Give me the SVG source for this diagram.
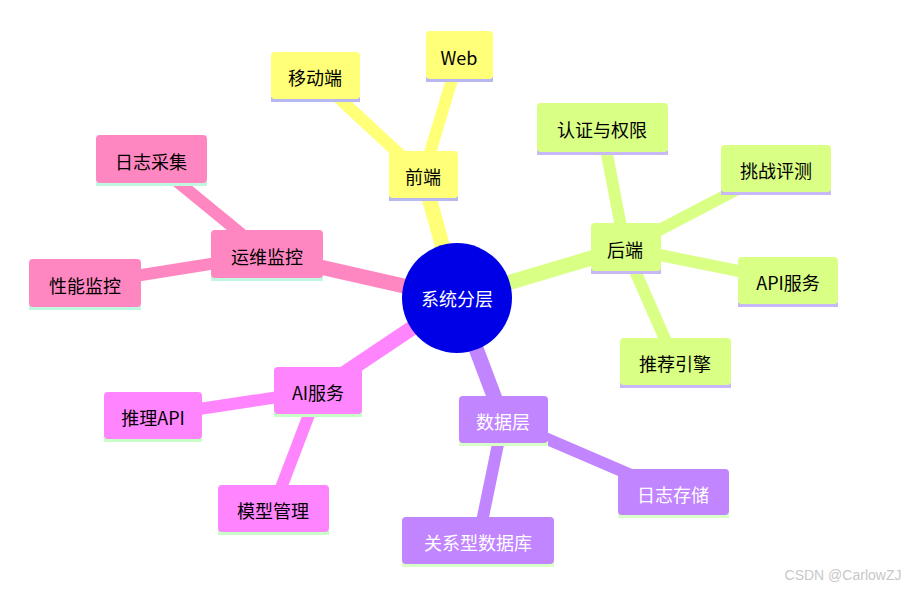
<svg xmlns="http://www.w3.org/2000/svg" width="914" height="589" viewBox="0 0 914 589">
<style>
text{font-family:"Noto Sans CJK SC","Noto Sans",sans-serif;font-size:18px;text-anchor:middle;dominant-baseline:central}
.e{stroke-linecap:round;fill:none}
.y{fill:#ffff78}.g{fill:#d9ff85}.p{fill:#c185ff}.m{fill:#ff85ff}.k{fill:#ff87c1}
.yu{fill:#b8b8f0}.gu{fill:#c9b8f7}.pu{fill:#d8ffc8}.mu{fill:#c8ffc8}.ku{fill:#bff7e0}
</style>
<rect width="914" height="589" fill="#fff"/>
<g id="connectors" class="e">
<g stroke="#ffff78"><line x1="457" y1="298" x2="423" y2="176" stroke-width="15"/><line x1="423" y1="176" x2="459" y2="56" stroke-width="12"/><line x1="423" y1="176" x2="315" y2="76" stroke-width="12"/></g>
<g stroke="#d9ff85"><line x1="457" y1="298" x2="625" y2="248" stroke-width="15"/><line x1="625" y1="248" x2="602" y2="128" stroke-width="12"/><line x1="625" y1="248" x2="776" y2="169" stroke-width="12"/><line x1="625" y1="248" x2="788" y2="281" stroke-width="12"/><line x1="625" y1="248" x2="675" y2="362" stroke-width="12"/></g>
<g stroke="#c185ff"><line x1="457" y1="298" x2="503" y2="420" stroke-width="15"/><line x1="503" y1="420" x2="673" y2="493" stroke-width="12"/><line x1="503" y1="420" x2="478" y2="541" stroke-width="12"/></g>
<g stroke="#ff85ff"><line x1="457" y1="298" x2="318" y2="391" stroke-width="15"/><line x1="318" y1="391" x2="153" y2="416" stroke-width="12"/><line x1="318" y1="391" x2="273" y2="509" stroke-width="12"/></g>
<g stroke="#ff87c1"><line x1="457" y1="298" x2="267" y2="255" stroke-width="15"/><line x1="267" y1="255" x2="151" y2="160" stroke-width="12"/><line x1="267" y1="255" x2="85" y2="284" stroke-width="12"/></g>
</g>
<g id="root"><circle cx="457" cy="298" r="55" fill="#0000e6"/><text x="457" y="298" fill="#fff">系统分层</text></g>
<g id="n-frontend"><rect class="yu" x="389" y="196" width="69" height="5"/><rect class="y" x="389" y="151" width="69" height="47" rx="4"/><text x="423" y="176">前端</text></g>
<g id="n-web"><rect class="yu" x="426" y="77" width="67" height="5"/><rect class="y" x="426" y="31" width="67" height="48" rx="4"/><text x="459" y="57">Web</text></g>
<g id="n-mobile"><rect class="yu" x="271" y="97" width="89" height="5"/><rect class="y" x="271" y="52" width="89" height="47" rx="4"/><text x="315" y="77">移动端</text></g>
<g id="n-backend"><rect class="gu" x="591" y="269" width="70" height="5"/><rect class="g" x="591" y="223" width="70" height="48" rx="4"/><text x="625" y="249">后端</text></g>
<g id="n-auth"><rect class="gu" x="537" y="150" width="131" height="5"/><rect class="g" x="537" y="103" width="131" height="49" rx="4"/><text x="602" y="129">认证与权限</text></g>
<g id="n-challenge"><rect class="gu" x="721" y="190" width="110" height="5"/><rect class="g" x="721" y="145" width="110" height="47" rx="4"/><text x="776" y="170">挑战评测</text></g>
<g id="n-api"><rect class="gu" x="738" y="302" width="100" height="5"/><rect class="g" x="738" y="257" width="100" height="47" rx="4"/><text x="788" y="282">API服务</text></g>
<g id="n-rec"><rect class="gu" x="620" y="383" width="111" height="5"/><rect class="g" x="620" y="338" width="111" height="47" rx="4"/><text x="675" y="363">推荐引擎</text></g>
<g id="n-data"><rect class="pu" x="459" y="441" width="89" height="5"/><rect class="p" x="459" y="396" width="89" height="47" rx="4"/><text x="503" y="421" fill="#fff">数据层</text></g>
<g id="n-logstore"><rect class="pu" x="618" y="513" width="111" height="5"/><rect class="p" x="618" y="469" width="111" height="46" rx="4"/><text x="673" y="494" fill="#fff">日志存储</text></g>
<g id="n-rdb"><rect class="pu" x="402" y="562" width="152" height="5"/><rect class="p" x="402" y="517" width="152" height="47" rx="4"/><text x="478" y="542" fill="#fff">关系型数据库</text></g>
<g id="n-ai"><rect class="mu" x="274" y="412" width="88" height="5"/><rect class="m" x="274" y="367" width="88" height="47" rx="4"/><text x="318" y="392">AI服务</text></g>
<g id="n-infer"><rect class="mu" x="104" y="437" width="98" height="5"/><rect class="m" x="104" y="392" width="98" height="47" rx="4"/><text x="153" y="417">推理API</text></g>
<g id="n-model"><rect class="mu" x="218" y="530" width="111" height="5"/><rect class="m" x="218" y="485" width="111" height="47" rx="4"/><text x="273" y="510">模型管理</text></g>
<g id="n-ops"><rect class="ku" x="211" y="276" width="112" height="5"/><rect class="k" x="211" y="230" width="112" height="48" rx="4"/><text x="267" y="256">运维监控</text></g>
<g id="n-logcol"><rect class="ku" x="96" y="181" width="111" height="5"/><rect class="k" x="96" y="135" width="111" height="48" rx="4"/><text x="151" y="161">日志采集</text></g>
<g id="n-perf"><rect class="ku" x="29" y="305" width="112" height="5"/><rect class="k" x="29" y="259" width="112" height="48" rx="4"/><text x="85" y="285">性能监控</text></g>
<text x="843" y="575" style="font-size:14px;fill:#c8c8c8;font-family:'Liberation Sans',sans-serif">CSDN @CarlowZJ</text>
</svg>
